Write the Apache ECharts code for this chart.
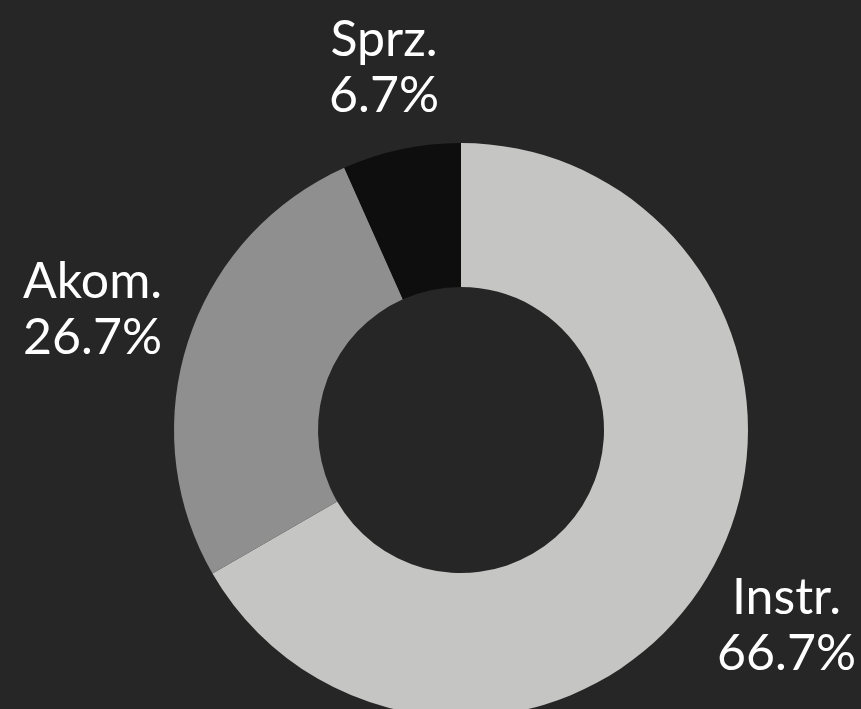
<!DOCTYPE html>
<html>
<head>
<meta charset="utf-8">
<style>
  html, body { margin: 0; padding: 0; background: #262626; }
  #main { width: 861px; height: 709px; }
</style>
<script src="https://cdn.jsdelivr.net/npm/echarts@6/dist/echarts.min.js"></script>
</head>
<body>
<div id="main"></div>
<script>
// dane wykresu
const categories = ['Instr.', 'Akom.', 'Sprz.'];
const values = [10, 4, 1];
const colors = ['#c5c5c3', '#8f8f8f', '#0e0e0e'];

// geometria pierścienia
const CX = 461, CY = 430;
const R_IN = 143, R_OUT = 287;
const LABEL_R = 304;
const EDGE = 5;

// kąty środkowe wycinków (od góry, zgodnie z ruchem wskazówek zegara)
const total = values.reduce((a, b) => a + b, 0);
const midAngles = [];
let acc = 0;
values.forEach((v) => {
  midAngles.push(((acc + v / 2) / total) * 2 * Math.PI);
  acc += v;
});

const chart = echarts.init(document.getElementById('main'));

chart.setOption({
  backgroundColor: '#262626',
  animation: false,
  series: [
    {
      type: 'pie',
      center: [CX, CY],
      radius: [R_IN, R_OUT],
      startAngle: 90,
      clockwise: true,
      avoidLabelOverlap: false,
      silent: true,
      label: {
        show: true,
        position: 'outside',
        // każdy procent zaokrąglany osobno (66.7 / 26.7 / 6.7)
        formatter: (p) => p.name + '\n' + ((p.value / total) * 100).toFixed(1) + '%',
        color: '#ffffff',
        fontFamily: 'Lato',
        fontSize: 50,
        lineHeight: 56,
        align: 'center',
      },
      labelLine: { show: false },
      // etykiety wyśrodkowane na promieniu przez środek wycinka
      labelLayout: (params) => {
        const a = midAngles[params.dataIndex];
        const ux = Math.sin(a), uy = -Math.cos(a);
        const w = params.labelRect.width, h = params.labelRect.height;
        const r = LABEL_R + Math.abs(ux) * w / 2 + Math.abs(uy) * h / 2;
        let x = CX + r * ux;
        const maxX = chart.getWidth() - EDGE - w / 2;
        const minX = EDGE + w / 2;
        x = Math.min(Math.max(x, minX), maxX);
        return { x, y: CY + r * uy, align: 'center', verticalAlign: 'middle' };
      },
      itemStyle: { borderWidth: 0 },
      data: categories.map((name, i) => ({
        name,
        value: values[i],
        itemStyle: { color: colors[i] },
      })),
    },
  ],
});
</script>
</body>
</html>
